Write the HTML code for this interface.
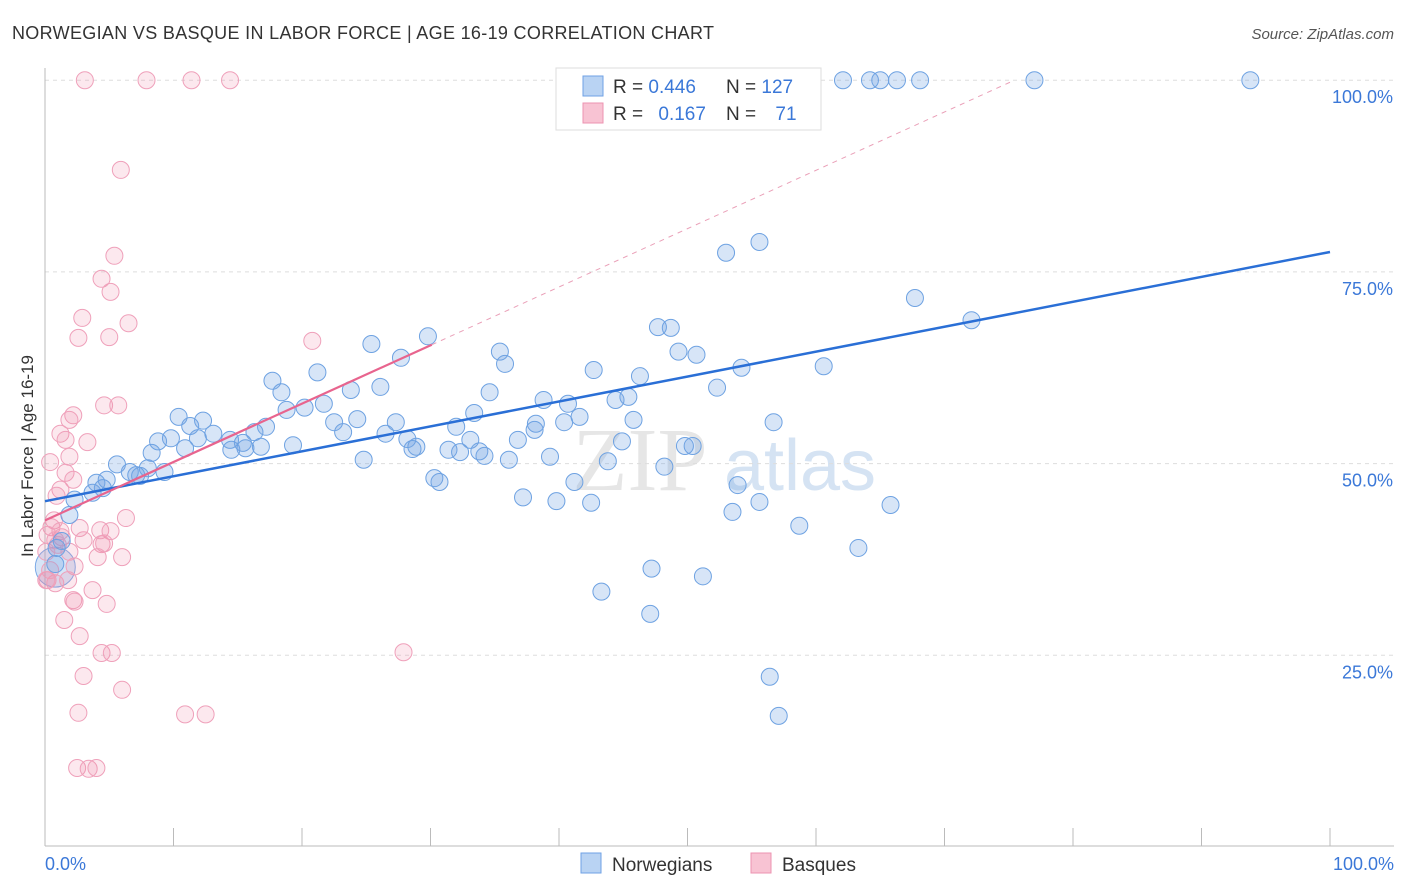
<!DOCTYPE html>
<html><head><meta charset="utf-8"><style>
body{margin:0;background:#fff;font-family:"Liberation Sans",sans-serif}
#c{position:absolute;left:0;top:0}
</style></head><body>
<svg id="c" width="1406" height="892">
<text x="12" y="39" font-size="18" fill="#333" textLength="702" lengthAdjust="spacing">NORWEGIAN VS BASQUE IN LABOR FORCE | AGE 16-19 CORRELATION CHART</text>
<text x="1394" y="39" font-size="15" fill="#555" text-anchor="end" font-style="italic">Source: ZipAtlas.com</text>
<text x="640" y="490" font-size="90" fill="#e6e6e6" font-family="Liberation Serif" text-anchor="middle">ZIP</text>
<text x="800" y="490" font-size="72" fill="#d5e3f3" text-anchor="middle">atlas</text>
<g id="grid"></g>
<g id="axes"></g>
<g id="pts"></g>
<g id="lines"></g>
<text x="33" y="456" font-size="17" fill="#333" text-anchor="middle" transform="rotate(-90 33 456)">In Labor Force | Age 16-19</text>
<text x="45" y="870" font-size="18" fill="#3b78d8">0.0%</text>
<text x="1394" y="870" font-size="18" fill="#3b78d8" text-anchor="end">100.0%</text>
<g>
<rect x="556" y="68" width="265" height="62" fill="#fff" stroke="#ddd"/>
<rect x="583" y="76" width="20" height="20" fill="#b9d3f3" stroke="#6fa2e4"/>
<rect x="583" y="103" width="20" height="20" fill="#f8c3d3" stroke="#ec93b0"/>
<text x="613" y="93" font-size="19" fill="#333">R = <tspan fill="#3b78d8">0.446</tspan></text>
<text x="726" y="93" font-size="19" fill="#333">N = <tspan fill="#3b78d8">127</tspan></text>
<text x="613" y="120" font-size="19" fill="#333">R = <tspan fill="#3b78d8" dx="10">0.167</tspan></text>
<text x="726" y="120" font-size="19" fill="#333">N = <tspan fill="#3b78d8" dx="14">71</tspan></text>
</g>
<g>
<rect x="581" y="853" width="20" height="20" fill="#b9d3f3" stroke="#6fa2e4"/>
<text x="612" y="871" font-size="19" fill="#333">Norwegians</text>
<rect x="751" y="853" width="20" height="20" fill="#f8c3d3" stroke="#ec93b0"/>
<text x="782" y="871" font-size="19" fill="#333">Basques</text>
</g>
</svg>
<script>
const blueX=[62.1,64.2,65.0,66.3,68.1,77.0,93.8,55.6,53.0,67.7,72.1,29.8,25.4,35.4,47.7,48.7,49.3,50.7,27.7,35.8,54.2,60.6,21.2,17.7,18.4,26.1,23.8,34.6,42.7,46.3,45.4,44.4,38.8,40.7,33.4,52.3,20.2,18.8,10.4,12.3,11.3,21.7,24.3,22.5,23.2,27.3,41.6,38.2,40.4,45.8,56.7,32.0,38.1,16.3,17.2,26.5,28.2,13.1,8.8,9.8,11.9,14.4,15.4,16.8,19.3,14.5,15.6,33.1,36.8,44.9,49.8,50.4,31.4,28.9,28.6,32.3,33.8,34.2,8.3,10.9,5.6,24.8,36.1,39.3,43.8,48.2,6.6,8.0,7.1,9.3,7.4,30.3,30.7,41.2,53.9,4.8,4.0,4.5,3.7,2.3,37.2,39.8,42.5,55.6,53.5,65.8,58.7,1.9,1.3,0.9,0.8,63.3,47.2,51.2,43.3,47.1,56.4,57.1];
const blueY=[100,100,100,100,100,100,100,78.9,77.5,71.6,68.7,66.6,65.6,64.6,67.8,67.7,64.6,64.2,63.8,63.0,62.5,62.7,61.9,60.8,59.3,60.0,59.6,59.3,62.2,61.4,58.7,58.3,58.3,57.8,56.6,59.9,57.3,57.0,56.1,55.6,54.9,57.8,55.8,55.4,54.1,55.4,56.1,55.2,55.4,55.7,55.4,54.8,54.4,54.1,54.8,53.9,53.2,53.9,52.9,53.3,53.3,53.1,52.7,52.2,52.4,51.8,52.0,53.1,53.1,52.9,52.3,52.3,51.8,52.2,51.9,51.5,51.6,51.0,51.4,52.0,49.9,50.5,50.5,50.9,50.3,49.6,48.9,49.4,48.5,48.9,48.4,48.1,47.6,47.6,47.2,47.9,47.5,46.8,46.2,45.3,45.6,45.1,44.9,45.0,43.7,44.6,41.9,43.3,39.9,39.0,36.9,39.0,36.3,35.3,33.3,30.4,22.2,17.1];
const pinkX=[3.1,7.9,11.4,14.4,5.9,5.4,4.4,5.1,2.9,6.5,2.6,5.0,20.8,4.6,5.7,2.2,1.9,1.2,1.6,3.3,1.9,0.4,1.6,2.2,1.2,0.9,0.7,0.5,1.2,1.3,0.2,2.7,4.3,5.1,6.3,3.0,4.4,4.6,1.9,4.1,6.0,2.3,3.7,0.2,0.8,1.8,2.2,2.3,4.8,1.5,2.7,4.4,5.2,27.9,3.0,6.0,2.6,10.9,12.5,2.5,3.4,4.0,0.8,1.0,0.1,0.4,0.1];
const pinkY=[100,100,100,100,88.3,77.1,74.1,72.4,69.0,68.3,66.4,66.5,66.0,57.6,57.6,56.3,55.7,53.9,53.1,52.8,50.9,50.2,48.8,47.9,46.6,45.8,42.6,41.7,41.2,40.4,40.7,41.6,41.3,41.2,42.9,40.0,39.5,39.6,38.5,37.8,37.8,36.6,33.5,34.8,34.4,34.8,32.2,32.0,31.7,29.6,27.5,25.3,25.3,25.4,22.3,20.5,17.5,17.3,17.3,10.3,10.2,10.3,40.0,39.4,38.5,36.1,34.8];
const yTicks=[25,50,75,100];
const yTickLabels=["25.0%","50.0%","75.0%","100.0%"];
const blueLine=[45.1,77.6];
const pinkLine=[42.6,65.5,30.1];
const xs=v=>45+v*12.85, ys=v=>847-v*7.668;
const NS="http://www.w3.org/2000/svg";
function mk(t,a,p){const e=document.createElementNS(NS,t);for(const k in a)e.setAttribute(k,a[k]);p.appendChild(e);return e;}
const grid=document.getElementById('grid'),axes=document.getElementById('axes'),pts=document.getElementById('pts'),lines=document.getElementById('lines');
yTicks.forEach((t,i)=>{
 const g=mk('line',{x1:45,x2:1394,y1:ys(t),y2:ys(t),stroke:'#ddd','stroke-dasharray':'4,4'},grid);
 
 
 const l=mk('text',{x:1393,y:ys(t)+23,'font-size':18,fill:'#3b78d8','text-anchor':'end'},axes);
 l.textContent=yTickLabels[i];
 
 
});
const ax=mk('line',{x1:45,x2:45,y1:68,y2:846,stroke:'#bbb'},axes);


const bx=mk('line',{x1:45,x2:1394,y1:846,y2:846,stroke:'#bbb'},axes);


for(let i=0;i<=10;i++){
 const t=mk('line',{x1:xs(i*10),x2:xs(i*10),y1:828,y2:846,stroke:'#bbb'},axes);
 
 
}
const big=mk('circle',{cx:xs(0.8),cy:ys(36.5),r:20,fill:'rgba(110,160,225,0.28)',stroke:'#7aa9e6','stroke-width':1},pts);


pinkX.forEach((x,i)=>{
 const c=mk('circle',{cx:xs(x),cy:ys(pinkY[i]),r:8.5,fill:'rgba(242,140,170,0.2)',stroke:'#efa0ba','stroke-width':1},pts);
 
 
});
blueX.forEach((x,i)=>{
 const c=mk('circle',{cx:xs(x),cy:ys(blueY[i]),r:8.5,fill:'rgba(110,160,225,0.28)',stroke:'#6ea2e2','stroke-width':1},pts);
 
 
});
const slope=(pinkLine[1]-pinkLine[0])/pinkLine[2];
const xEnd=(100-pinkLine[0])/slope;
const pd=mk('line',{x1:xs(pinkLine[2]),y1:ys(pinkLine[1]),x2:xs(xEnd),y2:ys(100),stroke:'#eaa0b8','stroke-dasharray':'5,5','stroke-width':1},lines);


const bl=mk('line',{x1:xs(0),y1:ys(blueLine[0]),x2:xs(100),y2:ys(blueLine[1]),stroke:'#2a6fd6','stroke-width':2.5},lines);


const pl=mk('line',{x1:xs(0),y1:ys(pinkLine[0]),x2:xs(pinkLine[2]),y2:ys(pinkLine[1]),stroke:'#e8648e','stroke-width':2.2},lines);


</script>
</body></html>
